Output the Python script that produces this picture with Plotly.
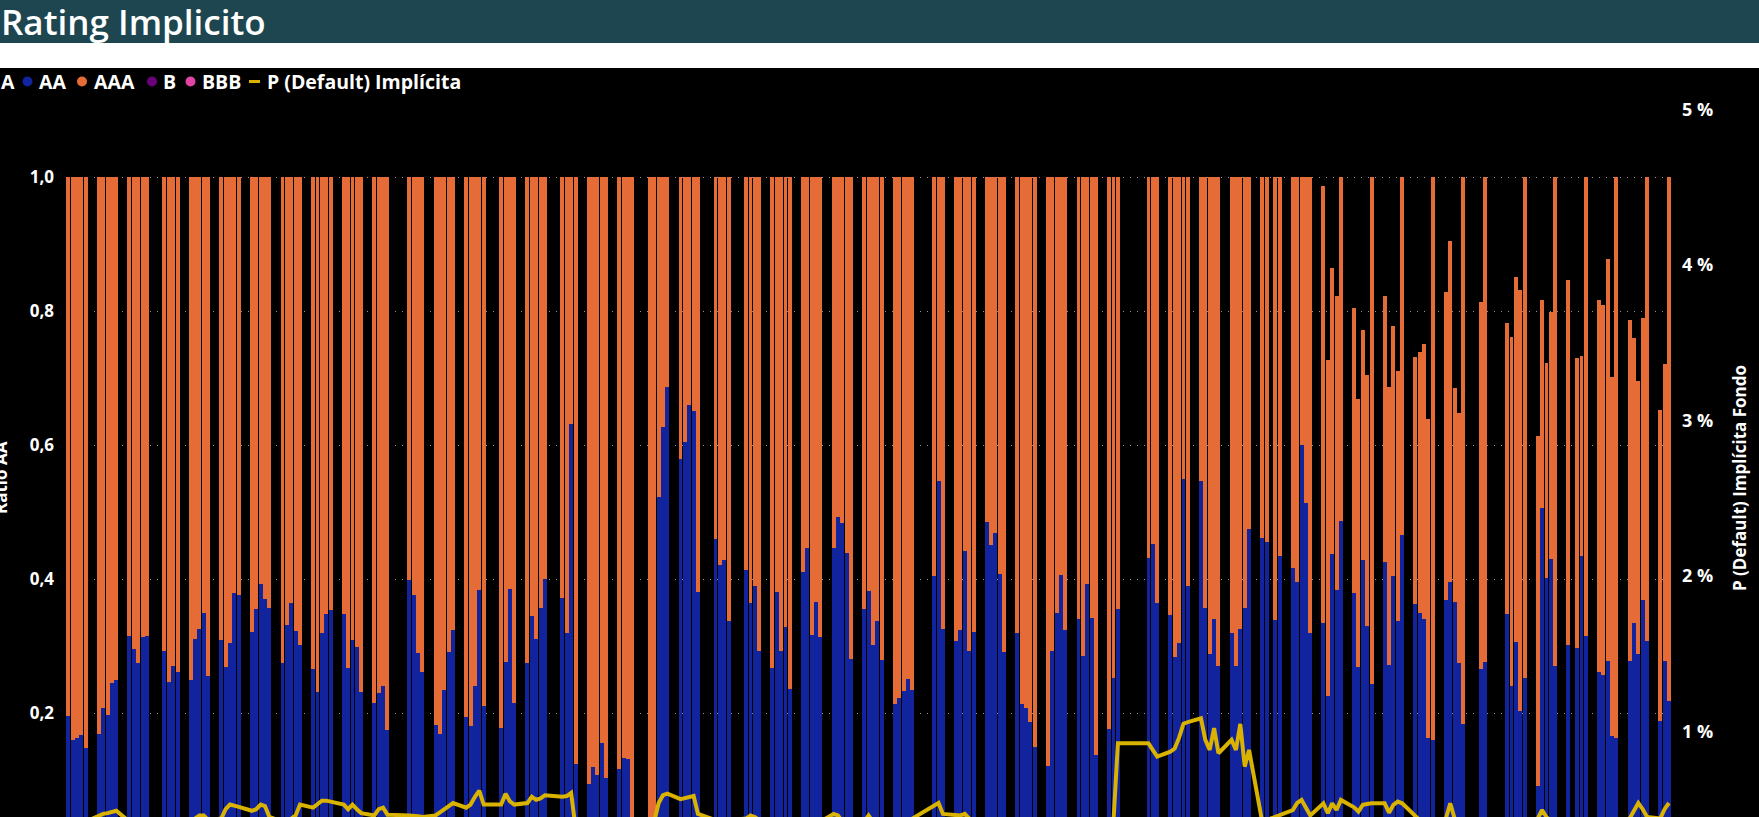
import plotly.graph_objects as go

# ---------------- data ----------------
dates = [
    "2023-01-02", "2023-01-03", "2023-01-04", "2023-01-05", "2023-01-06",
    "2023-01-09", "2023-01-10", "2023-01-11", "2023-01-12", "2023-01-13",
    "2023-01-16", "2023-01-17", "2023-01-18", "2023-01-19", "2023-01-20",
    "2023-01-24", "2023-01-25", "2023-01-26", "2023-01-27",
    "2023-01-30", "2023-01-31", "2023-02-01", "2023-02-02", "2023-02-03",
    "2023-02-06", "2023-02-07", "2023-02-08", "2023-02-09", "2023-02-10",
    "2023-02-13", "2023-02-14", "2023-02-15", "2023-02-16", "2023-02-17",
    "2023-02-20", "2023-02-21", "2023-02-22", "2023-02-23", "2023-02-24",
    "2023-02-27", "2023-02-28", "2023-03-01", "2023-03-02", "2023-03-03",
    "2023-03-06", "2023-03-07", "2023-03-08", "2023-03-09", "2023-03-10",
    "2023-03-13", "2023-03-14", "2023-03-15", "2023-03-16",
    "2023-03-21", "2023-03-22", "2023-03-23", "2023-03-24",
    "2023-03-27", "2023-03-28", "2023-03-29", "2023-03-30", "2023-03-31",
    "2023-04-03", "2023-04-04", "2023-04-05", "2023-04-06", "2023-04-07",
    "2023-04-11", "2023-04-12", "2023-04-13", "2023-04-14",
    "2023-04-17", "2023-04-18", "2023-04-19", "2023-04-20", "2023-04-21",
    "2023-04-25", "2023-04-26", "2023-04-27", "2023-04-28",
    "2023-05-01", "2023-05-02", "2023-05-03", "2023-05-04", "2023-05-05",
    "2023-05-08", "2023-05-09", "2023-05-10", "2023-05-11",
    "2023-05-15", "2023-05-16", "2023-05-17", "2023-05-18", "2023-05-19",
    "2023-05-22", "2023-05-23", "2023-05-24", "2023-05-25", "2023-05-26",
    "2023-05-30", "2023-05-31", "2023-06-01", "2023-06-02",
    "2023-06-06", "2023-06-07", "2023-06-08", "2023-06-09",
    "2023-06-12", "2023-06-13", "2023-06-14", "2023-06-15", "2023-06-16",
    "2023-06-19", "2023-06-20", "2023-06-21", "2023-06-22", "2023-06-23",
    "2023-06-26", "2023-06-27", "2023-06-28", "2023-06-29", "2023-06-30",
    "2023-07-03", "2023-07-04", "2023-07-05", "2023-07-06", "2023-07-07",
    "2023-07-10", "2023-07-11", "2023-07-12", "2023-07-13", "2023-07-14",
    "2023-07-19", "2023-07-20", "2023-07-21",
    "2023-07-24", "2023-07-25", "2023-07-26", "2023-07-27", "2023-07-28",
    "2023-07-31", "2023-08-01", "2023-08-02", "2023-08-03", "2023-08-04",
    "2023-08-07", "2023-08-08", "2023-08-09", "2023-08-10", "2023-08-11",
    "2023-08-14", "2023-08-15", "2023-08-16", "2023-08-17", "2023-08-18",
    "2023-08-21", "2023-08-22", "2023-08-23", "2023-08-24", "2023-08-25",
    "2023-08-28", "2023-08-29", "2023-08-30",
    "2023-09-06", "2023-09-07", "2023-09-08",
    "2023-09-11", "2023-09-12", "2023-09-13", "2023-09-14", "2023-09-15",
    "2023-09-18", "2023-09-19", "2023-09-20", "2023-09-21", "2023-09-22",
    "2023-09-25", "2023-09-26", "2023-09-27", "2023-09-28", "2023-09-29",
    "2023-10-02", "2023-10-03", "2023-10-05", "2023-10-06",
    "2023-10-09", "2023-10-10", "2023-10-11", "2023-10-12", "2023-10-13",
    "2023-10-16", "2023-10-17", "2023-10-18", "2023-10-19", "2023-10-20",
    "2023-10-23", "2023-10-24", "2023-10-25", "2023-10-26", "2023-10-27",
    "2023-10-30", "2023-10-31", "2023-11-01", "2023-11-02", "2023-11-03",
    "2023-11-06", "2023-11-07", "2023-11-08", "2023-11-09", "2023-11-10",
    "2023-11-13", "2023-11-14", "2023-11-15", "2023-11-16", "2023-11-17",
    "2023-11-21", "2023-11-22",
    "2023-11-27", "2023-11-28", "2023-11-29", "2023-11-30", "2023-12-01",
    "2023-12-04", "2023-12-05", "2023-12-06", "2023-12-07", "2023-12-08",
    "2023-12-11", "2023-12-13", "2023-12-14", "2023-12-15",
    "2023-12-18", "2023-12-19", "2023-12-20", "2023-12-21", "2023-12-22",
    "2023-12-25", "2023-12-26", "2023-12-27", "2023-12-28", "2023-12-29",
    "2024-01-01", "2024-01-02", "2024-01-03",
]

# share rated AA (bottom, dark blue)
aa = [
    0.195, 0.160, 0.163, 0.167, 0.148,
    0.168, 0.208, 0.197, 0.245, 0.249,
    0.315, 0.295, 0.274, 0.314, 0.315,
    0.293, 0.247, 0.270, 0.261,
    0.250, 0.310, 0.326, 0.350, 0.255,
    0.309, 0.268, 0.304, 0.379, 0.376,
    0.321, 0.355, 0.392, 0.370, 0.356,
    0.275, 0.332, 0.364, 0.323, 0.301,
    0.266, 0.232, 0.320, 0.348, 0.354,
    0.348, 0.267, 0.309, 0.298, 0.231,
    0.215, 0.230, 0.240, 0.174,
    0.399, 0.376, 0.289, 0.261,
    0.182, 0.169, 0.235, 0.291, 0.324,
    0.194, 0.181, 0.241, 0.383, 0.211,
    0.177, 0.276, 0.385, 0.215,
    0.275, 0.345, 0.311, 0.357, 0.400,
    0.372, 0.319, 0.631, 0.124,
    0.094, 0.120, 0.107, 0.155, 0.103,
    0.116, 0.133, 0.132, 0.020,
    0.020, 0.025, 0.522, 0.627, 0.686,
    0.579, 0.605, 0.660, 0.651, 0.380,
    0.459, 0.421, 0.429, 0.337,
    0.413, 0.364, 0.390, 0.293,
    0.267, 0.381, 0.293, 0.329, 0.236,
    0.410, 0.446, 0.317, 0.366, 0.314,
    0.446, 0.493, 0.483, 0.439, 0.281,
    0.355, 0.382, 0.302, 0.337, 0.279,
    0.213, 0.222, 0.233, 0.251, 0.235,
    0.404, 0.546, 0.326,
    0.308, 0.324, 0.442, 0.292, 0.321,
    0.485, 0.451, 0.469, 0.408, 0.291,
    0.319, 0.214, 0.208, 0.187, 0.149,
    0.121, 0.293, 0.350, 0.406, 0.324,
    0.340, 0.285, 0.392, 0.342, 0.137,
    0.176, 0.253, 0.355,
    0.432, 0.452, 0.364,
    0.346, 0.283, 0.305, 0.549, 0.390,
    0.547, 0.357, 0.288, 0.340, 0.270,
    0.320, 0.270, 0.325, 0.357, 0.475,
    0.461, 0.455, 0.339, 0.435,
    0.417, 0.395, 0.600, 0.513, 0.319,
    0.335, 0.225, 0.437, 0.384, 0.487,
    0.379, 0.269, 0.428, 0.330, 0.243,
    0.426, 0.272, 0.405, 0.337, 0.465,
    0.362, 0.350, 0.340, 0.162, 0.160,
    0.368, 0.396, 0.365, 0.275, 0.183,
    0.266, 0.276,
    0.348, 0.240, 0.306, 0.203, 0.253,
    0.091, 0.506, 0.402, 0.430, 0.270,
    0.301, 0.297, 0.435, 0.315,
    0.261, 0.256, 0.278, 0.166, 0.163,
    0.278, 0.334, 0.288, 0.368, 0.307,
    0.188, 0.277, 0.218,
]

# top of each stacked bar (AA + AAA)
bar_top = [
    1.0, 1.0, 1.0, 1.0, 1.0,
    1.0, 1.0, 1.0, 1.0, 1.0,
    1.0, 1.0, 1.0, 1.0, 1.0,
    1.0, 1.0, 1.0, 1.0,
    1.0, 1.0, 1.0, 1.0, 1.0,
    1.0, 1.0, 1.0, 1.0, 1.0,
    1.0, 1.0, 1.0, 1.0, 1.0,
    1.0, 1.0, 1.0, 1.0, 1.0,
    1.0, 1.0, 1.0, 1.0, 1.0,
    1.0, 1.0, 1.0, 1.0, 1.0,
    1.0, 1.0, 1.0, 1.0,
    1.0, 1.0, 1.0, 1.0,
    1.0, 1.0, 1.0, 1.0, 1.0,
    1.0, 1.0, 1.0, 1.0, 1.0,
    1.0, 1.0, 1.0, 1.0,
    1.0, 1.0, 1.0, 1.0, 1.0,
    1.0, 1.0, 1.0, 1.0,
    1.0, 1.0, 1.0, 1.0, 1.0,
    1.0, 1.0, 1.0, 1.0,
    1.0, 1.0, 1.0, 1.0, 1.0,
    1.0, 1.0, 1.0, 1.0, 1.0,
    1.0, 1.0, 1.0, 1.0,
    1.0, 1.0, 1.0, 1.0,
    1.0, 1.0, 1.0, 1.0, 1.0,
    1.0, 1.0, 1.0, 1.0, 1.0,
    1.0, 1.0, 1.0, 1.0, 1.0,
    1.0, 1.0, 1.0, 1.0, 1.0,
    1.0, 1.0, 1.0, 1.0, 1.0,
    1.0, 1.0, 1.0,
    1.0, 1.0, 1.0, 1.0, 1.0,
    1.0, 1.0, 1.0, 1.0, 1.0,
    1.0, 1.0, 1.0, 1.0, 1.0,
    1.0, 1.0, 1.0, 1.0, 1.0,
    1.0, 1.0, 1.0, 1.0, 1.0,
    1.0, 1.0, 1.0,
    1.0, 1.0, 1.0,
    1.0, 1.0, 1.0, 1.0, 1.0,
    1.0, 1.0, 1.0, 1.0, 1.0,
    1.0, 1.0, 1.0, 1.0, 1.0,
    1.0, 1.0, 1.0, 1.0,
    1.0, 1.0, 1.0, 1.0, 1.0,
    0.986, 0.727, 0.864, 0.822, 1.0,
    0.804, 0.668, 0.772, 0.705, 1.0,
    0.822, 0.686, 0.777, 0.711, 1.0,
    0.732, 0.739, 0.751, 0.639, 1.0,
    0.828, 0.904, 0.685, 0.648, 1.0,
    0.814, 1.0,
    0.782, 0.761, 0.851, 0.831, 1.0,
    0.613, 0.817, 0.722, 0.799, 1.0,
    0.847, 0.730, 0.733, 1.0,
    0.817, 0.809, 0.877, 0.701, 1.0,
    0.787, 0.759, 0.695, 0.790, 1.0,
    0.652, 0.721, 1.0,
]

# P (Default) implicita, in percent
p_default = [
    0.40, 0.40, 0.41, 0.41, 0.42,
    0.46, 0.47, 0.475, 0.48, 0.49,
    0.42, 0.42, 0.41, 0.41, 0.42,
    0.42, 0.42, 0.41, 0.42,
    0.42, 0.44, 0.46, 0.46, 0.43,
    0.44, 0.50, 0.53, 0.52, 0.515,
    0.49, 0.50, 0.53, 0.52, 0.45,
    0.42, 0.43, 0.44, 0.46, 0.53,
    0.51, 0.53, 0.555, 0.555, 0.55,
    0.53, 0.50, 0.53, 0.50, 0.475,
    0.46, 0.50, 0.51, 0.465,
    0.46, 0.46, 0.455, 0.45,
    0.46, 0.48, 0.50, 0.52, 0.54,
    0.51, 0.53, 0.58, 0.62, 0.53,
    0.53, 0.60, 0.55, 0.53,
    0.54, 0.58, 0.56, 0.57, 0.59,
    0.58, 0.585, 0.605, 0.38,
    0.38, 0.38, 0.39, 0.39, 0.40,
    0.40, 0.39, 0.40, 0.40,
    0.40, 0.42, 0.54, 0.59, 0.60,
    0.565, 0.57, 0.58, 0.585, 0.47,
    0.43, 0.43, 0.43, 0.43,
    0.44, 0.46, 0.45, 0.43,
    0.42, 0.42, 0.42, 0.42, 0.42,
    0.42, 0.42, 0.42, 0.42, 0.42,
    0.47, 0.46, 0.42, 0.42, 0.42,
    0.42, 0.46, 0.42, 0.42, 0.42,
    0.42, 0.42, 0.42, 0.42, 0.44,
    0.52, 0.54, 0.47,
    0.46, 0.46, 0.47, 0.44, 0.43,
    0.42, 0.42, 0.42, 0.42, 0.42,
    0.42, 0.42, 0.42, 0.42, 0.42,
    0.42, 0.42, 0.42, 0.42, 0.42,
    0.42, 0.42, 0.42, 0.42, 0.42,
    0.40, 0.42, 0.924,
    0.924, 0.88, 0.838,
    0.87, 0.89, 0.96, 1.05, 1.06,
    1.085, 0.946, 0.881, 1.021, 0.86,
    0.946, 0.881, 1.049, 0.774, 0.881,
    0.42, 0.43, 0.45, 0.46,
    0.495, 0.54, 0.56, 0.51, 0.46,
    0.538, 0.474, 0.538, 0.495, 0.56,
    0.512, 0.485, 0.528, 0.534, 0.538,
    0.538, 0.478, 0.528, 0.549, 0.538,
    0.46, 0.43, 0.42, 0.42, 0.42,
    0.44, 0.538, 0.44, 0.42, 0.42,
    0.42, 0.42,
    0.42, 0.42, 0.42, 0.42, 0.42,
    0.44, 0.495, 0.45, 0.42, 0.42,
    0.42, 0.42, 0.42, 0.42,
    0.42, 0.42, 0.42, 0.42, 0.42,
    0.44, 0.49, 0.54, 0.50, 0.45,
    0.44, 0.50, 0.54,
]

legend_labels = ["A", "AA", "AAA", "B", "BBB", "P (Default) Implícita"]
left_ticks = [0.2, 0.4, 0.6, 0.8, 1.0]
right_ticks = [1, 2, 3, 4, 5]
right_tick_text = ["1 %", "2 %", "3 %", "4 %", "5 %"]

assert len(dates) == len(aa) == len(bar_top) == len(p_default), (
    len(dates), len(aa), len(bar_top), len(p_default))

aaa = [round(t - a, 4) for t, a in zip(bar_top, aa)]

# ---------------- styling ----------------
W, H = 1759, 817
ML, MR, MT, MB = 66, 87, 95, 0
PW, PH = W - ML - MR, H - MT - MB

C_AA = "#12239E"
C_AAA = "#E66C37"
C_B = "#6B007B"
C_BBB = "#E044A7"
C_LINE = "#D9B300"
TEAL = "#1E4651"
FONT = "Open Sans"


def px(xp):
    return (xp - ML) / PW


def py(yp):
    return (H - MB - yp) / PH


fig = go.Figure()
fig.add_trace(go.Bar(x=dates, y=aa, name="AA", marker=dict(color=C_AA, line=dict(width=0)),
                     yaxis="y"))
fig.add_trace(go.Bar(x=dates, y=aaa, name="AAA", marker=dict(color=C_AAA, line=dict(width=0)),
                     yaxis="y"))
fig.add_trace(go.Scatter(x=dates, y=p_default, name="P (Default) Implícita", mode="lines",
                         line=dict(color=C_LINE, width=4), yaxis="y2"))

tickfont = dict(family=FONT, size=17, color="white", weight="bold")

fig.update_layout(
    template="none",
    width=W, height=H,
    margin=dict(l=ML, r=MR, t=MT, b=MB, autoexpand=False),
    paper_bgcolor="black", plot_bgcolor="black",
    separators=",.",
    barmode="stack", bargap=0.1,
    showlegend=False,
    xaxis=dict(type="date", range=["2023-01-01 12:00", "2024-01-03 16:48"],
               showgrid=False, showticklabels=False, zeroline=False, showline=False, ticks=""),
    yaxis=dict(range=[0.0448, 1.1224], tickvals=left_ticks, tickformat=".1f",
               showgrid=True, gridcolor="rgba(190,190,190,0.8)", gridwidth=1, griddash="1px,6px",
               zeroline=False, showline=False, ticks="", tickfont=tickfont, ticklabelstandoff=11),
    yaxis2=dict(range=[0.450, 5.093], overlaying="y", side="right", tickmode="array",
                tickvals=right_ticks, ticktext=right_tick_text, showgrid=False, zeroline=False,
                showline=False, ticks="", tickfont=dict(family=FONT, size=18, color="white",
                                                        weight="bold"),
                ticklabelstandoff=9),
)

shapes = [
    dict(type="rect", xref="paper", yref="paper", x0=px(-5), x1=px(W + 5), y0=py(43), y1=py(-5),
         fillcolor=TEAL, line=dict(width=0), layer="below"),
    dict(type="rect", xref="paper", yref="paper", x0=px(-5), x1=px(W + 5), y0=py(68), y1=py(43),
         fillcolor="white", line=dict(width=0), layer="below"),
]
# legend symbols
legend_y = 81.5
for cx, col in [(27.5, C_AA), (82, C_AAA), (152, C_B), (190.5, C_BBB)]:
    shapes.append(dict(type="circle", xref="paper", yref="paper", x0=px(cx - 5), x1=px(cx + 5),
                       y0=py(legend_y + 5), y1=py(legend_y - 5), fillcolor=col,
                       line=dict(width=0), layer="above"))
shapes.append(dict(type="line", xref="paper", yref="paper", x0=px(249), x1=px(260),
                   y0=py(legend_y), y1=py(legend_y), line=dict(color=C_LINE, width=3), layer="above"))
fig.update_layout(shapes=shapes)

annotations = [
    dict(text="Rating Implicito", xref="paper", yref="paper", x=px(-1), y=py(22), xanchor="left",
         yanchor="middle", showarrow=False,
         font=dict(family=FONT, size=35, color="white", weight=600)),
]
legend_x = [-1, 37, 92, 161, 199.5, 264.5]
for lx, lab in zip(legend_x, legend_labels):
    annotations.append(dict(text=lab, xref="paper", yref="paper", x=px(lx), y=py(legend_y),
                            xanchor="left", yanchor="middle", showarrow=False,
                            font=dict(family=FONT, size=19.5, color="white", weight="bold")))
annotations.append(dict(text="P (Default) Implícita Fondo", xref="paper", yref="paper",
                        x=px(1740), y=py(478), xanchor="center", yanchor="middle", textangle=-90,
                        showarrow=False, font=dict(family=FONT, size=17, color="white", weight="bold")))
annotations.append(dict(text="Ratio AA", xref="paper", yref="paper",
                        x=px(1), y=py(478), xanchor="center", yanchor="middle", textangle=-90,
                        showarrow=False, font=dict(family=FONT, size=17, color="white", weight="bold")))
fig.update_layout(annotations=annotations)

fig.write_html(
    "out.html",
    config={"displayModeBar": False},
    post_script="document.body.style.margin='0px';document.body.style.padding='0px';"
                "document.body.style.overflow='hidden';",
)
